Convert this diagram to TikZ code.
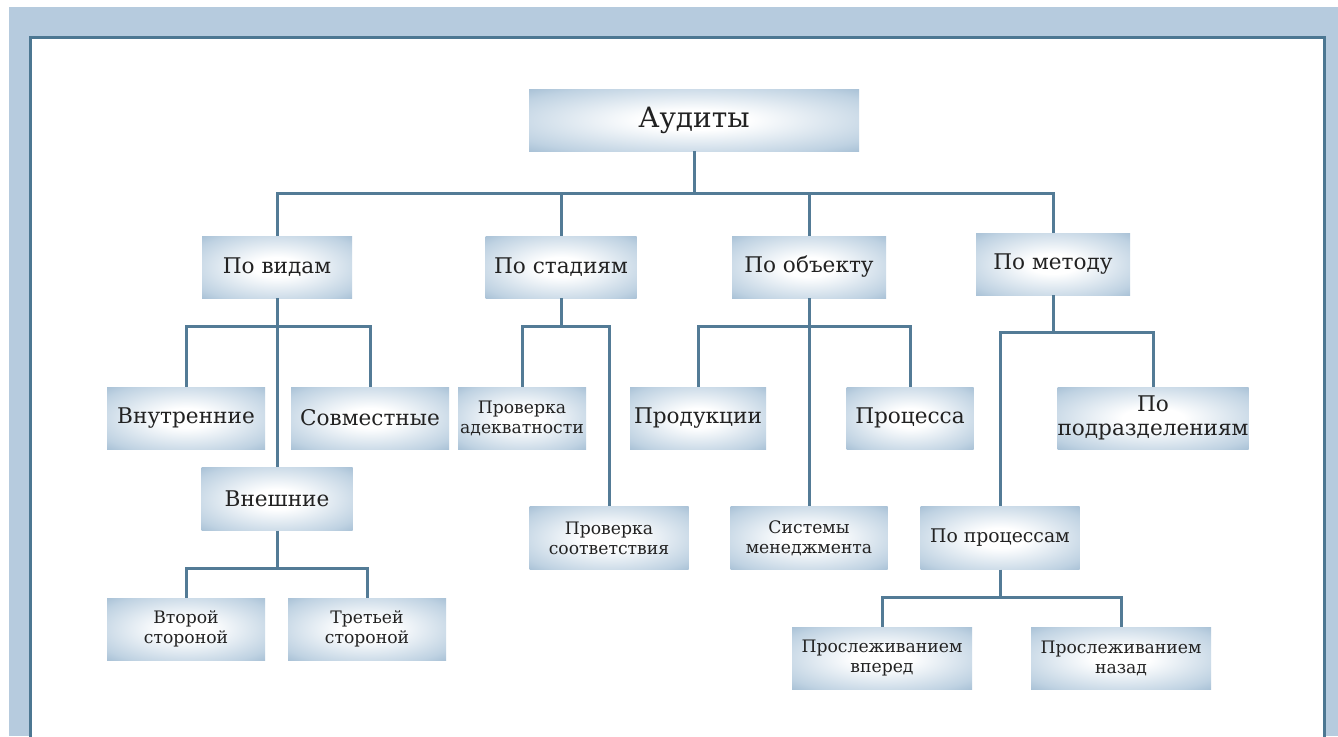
\documentclass[tikz,border=0pt]{standalone}
\usepackage{fontspec}
\setmainfont{DejaVu Serif}
\usepackage{tikz}
\usetikzlibrary{calc}

\definecolor{bandblue}{HTML}{B6CBDE}
\definecolor{framedark}{HTML}{4C7792}
\definecolor{linkblue}{HTML}{537B96}
\definecolor{boxmid}{HTML}{BFD2E2}
\definecolor{boxedge}{HTML}{7FA2C0}
\definecolor{textdark}{HTML}{222222}

\pgfdeclareradialshading{boxshade}{\pgfpoint{0bp}{0bp}}{%
  color(0bp)=(white); color(8bp)=(white); color(30bp)=(boxmid);
  color(46bp)=(boxedge); color(72bp)=(boxedge)}

\tikzset{
  audbox/.style={rectangle, shading=boxshade, inner sep=0pt, align=center,
    text=textdark, font=\fontsize{10.8}{12.3}\selectfont},
  audsmall/.style={audbox, font=\fontsize{8.6}{10}\selectfont},
  link/.style={draw=linkblue, line width=1.5pt}
}

\begin{document}
\begin{tikzpicture}[x=0.5pt, y=-0.5pt]
            % Frame
            \useasboundingbox (0,0) rectangle (1338,736);
            \fill[white] (0,0) rectangle (1338,736);
            \fill[bandblue] (9,7) rectangle (1338,736);
            \begin{scope}
              \clip (0,0) rectangle (1338,736);
              \draw[fill=white, draw=framedark, line width=1.5pt] (30,37) rectangle (1324,745);
            \end{scope}

            % Nodes
            \node[audbox, minimum width=165pt, minimum height=31pt, font=\fontsize{14}{16}\selectfont] (aud) at (694,120) {Аудиты};

            \node[audbox, minimum width=75pt, minimum height=31pt] (vidy) at (277,267) {По видам};
            \node[audbox, minimum width=75.5pt, minimum height=31pt] (stad) at (561,267) {По стадиям};
            \node[audbox, minimum width=77pt, minimum height=31pt] (obj) at (809,267) {По объекту};
            \node[audbox, minimum width=77pt, minimum height=31pt] (metod) at (1053,264) {По методу};

            \node[audbox, minimum width=79pt, minimum height=31pt] (vnutr) at (186,418) {Внутренние};
            \node[audbox, minimum width=79pt, minimum height=31pt] (sovm) at (370,418) {Совместные};
            \node[audbox, minimum width=75.5pt, minimum height=31.5pt] (vnesh) at (277,499) {Внешние};
            \node[audsmall, minimum width=79pt, minimum height=31pt] (vtor) at (186,629) {Второй\\стороной};
            \node[audsmall, minimum width=79pt, minimum height=31pt] (tret) at (367,629) {Третьей\\стороной};

            \node[audsmall, minimum width=64pt, minimum height=31pt] (adekv) at (522,418) {Проверка\\адекватности};
            \node[audsmall, minimum width=79.5pt, minimum height=31.5pt] (sootv) at (609,538) {Проверка\\соответствия};

            \node[audbox, minimum width=68pt, minimum height=31pt] (prod) at (698,418) {Продукции};
            \node[audbox, minimum width=63.5pt, minimum height=31pt] (proc) at (910,418) {Процесса};
            \node[audsmall, minimum width=78.5pt, minimum height=31.5pt] (sist) at (809,538) {Системы\\менеджмента};

            \node[audbox, minimum width=93pt, minimum height=31pt] (podr) at (1153,418) {По\\подразделениям};
            \node[audsmall, minimum width=79.5pt, minimum height=31.5pt, font=\fontsize{9.4}{11}\selectfont] (poproc) at (1000,538) {По процессам};
            \node[audsmall, minimum width=90pt, minimum height=31pt] (vpered) at (882,658) {Прослеживанием\\вперед};
            \node[audsmall, minimum width=90pt, minimum height=31pt] (nazad) at (1121,658) {Прослеживанием\\назад};

            % Links
            \draw[link] (aud.south) -- ++(0,42) -| (vidy.north);
            \draw[link] (aud.south) -- ++(0,42) -| (stad.north);
            \draw[link] (aud.south) -- ++(0,42) -| (obj.north);
            \draw[link] (aud.south) -- ++(0,42) -| (metod.north);

            \draw[link] (vidy.south) -- ++(0,28) -| (vnutr.north);
            \draw[link] (vidy.south) -- ++(0,28) -| (sovm.north);
            \draw[link] (vidy.south) -- (vnesh.north);
            \draw[link] (vnesh.south) -- ++(0,38) -| (vtor.north);
            \draw[link] (vnesh.south) -- ++(0,38) -| (tret.north);

            \draw[link] (stad.south) -- ++(0,28) -| (adekv.north);
            \draw[link] (stad.south) -- ++(0,28) -| (sootv.north);

            \draw[link] (obj.south) -- ++(0,28) -| (prod.north);
            \draw[link] (obj.south) -- ++(0,28) -| (proc.north);
            \draw[link] (obj.south) -- (sist.north);

            \draw[link] (metod.south) -- ++(0,37) -| (podr.north);
            \draw[link] (metod.south) -- ++(0,37) -| (poproc.north);
            \draw[link] (poproc.south) -- ++(0,28) -| (vpered.north);
            \draw[link] (poproc.south) -- ++(0,28) -| (nazad.north);
        \end{tikzpicture}
\end{document}
